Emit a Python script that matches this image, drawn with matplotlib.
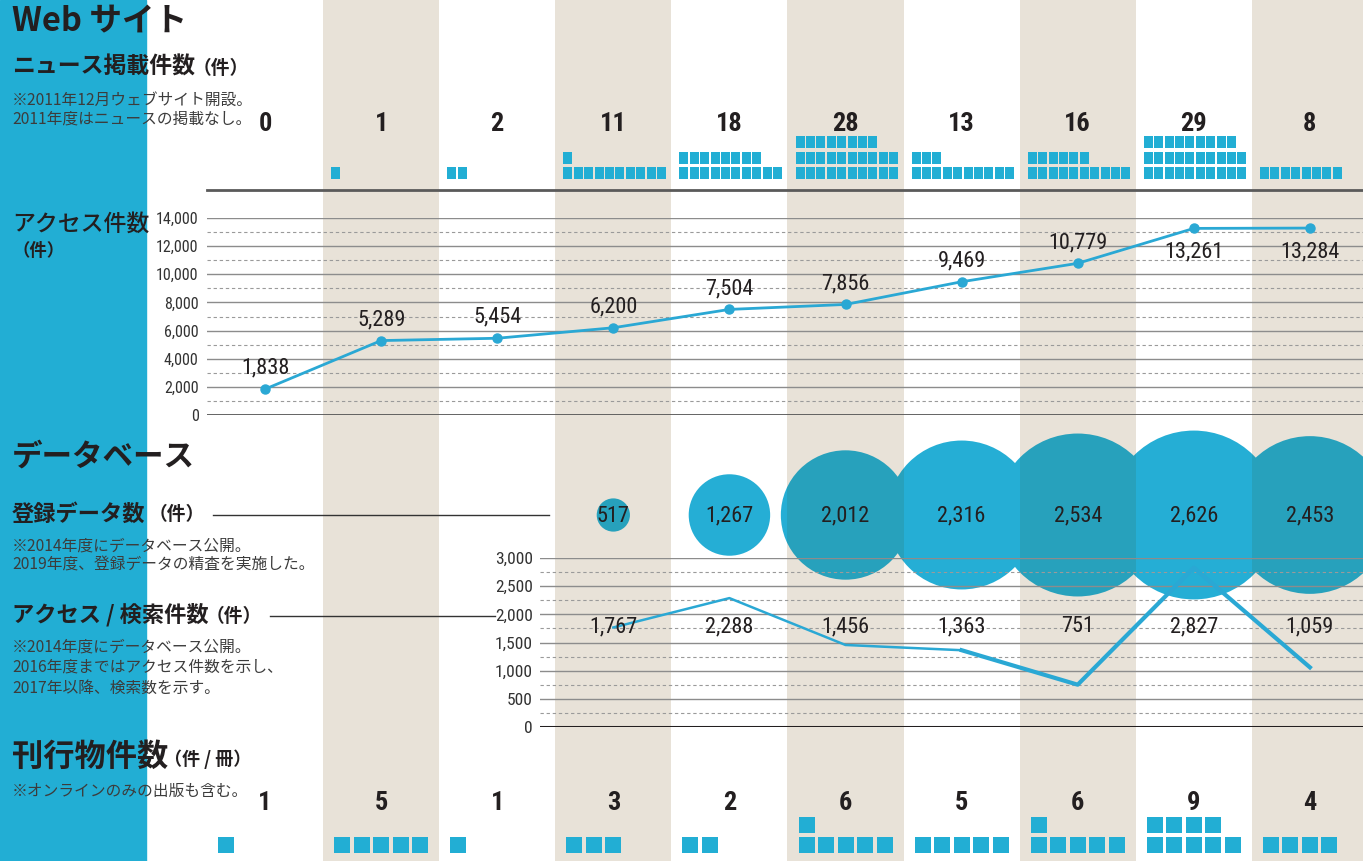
import os
import matplotlib
matplotlib.use('Agg')
import matplotlib.pyplot as plt
from matplotlib import font_manager as fm
from matplotlib.font_manager import FontProperties
from matplotlib.patches import Ellipse, Rectangle
from matplotlib.lines import Line2D
from matplotlib.transforms import Bbox, TransformedBbox, blended_transform_factory
import numpy as np

# ---------------- data ----------------
years = [2011, 2012, 2013, 2014, 2015, 2016, 2017, 2018, 2019, 2020]
news_counts = [0, 1, 2, 11, 18, 28, 13, 16, 29, 8]
web_access = [1838, 5289, 5454, 6200, 7504, 7856, 9469, 10779, 13261, 13284]
db_years = [2014, 2015, 2016, 2017, 2018, 2019, 2020]
db_records = [517, 1267, 2012, 2316, 2534, 2626, 2453]
db_access = [1767, 2288, 1456, 1363, 751, 2827, 1059]
pub_counts = [1, 5, 1, 3, 2, 6, 5, 6, 9, 4]
access_ticks = [0, 2000, 4000, 6000, 8000, 10000, 12000, 14000]
db_ticks = [0, 500, 1000, 1500, 2000, 2500, 3000]

# ---------------- style ----------------
W, H = 1363, 861
BLUE = '#22AED4'
LINE_BLUE = '#2AA8D4'
BEIGE = '#E8E2D8'
DARK = '#231F20'
NOTE = '#3C3C3C'
BUB_W = '#25AED5'
BUB_B = '#27A1BC'
OVL_W = '#039BC0'
OVL_B = '#0290AC'
COL0, PITCH = 265.0, 116.1
XL = (-0.5, (W - COL0) / PITCH)

JP = ['Noto Sans CJK JP', 'DejaVu Sans']
plt.rcParams['font.family'] = JP


# condensed font for numbers (real text, chosen from installed files)
def _norm(p):
    return os.path.basename(p).lower().replace('-', '').replace('_', '').replace(' ', '')

_files = [f.fname for f in fm.fontManager.ttflist]


def pick(patterns):
    for p in patterns:
        for f in _files:
            if p in _norm(f):
                return f
    return None

REG_FILE = pick(['notosanscondensed.ttf', 'notosanscondensedregular', 'robotocondensedregular',
                 'opensanscondensedregular', 'liberationsansnarrowregular',
                 'dejavusanscondensed.ttf'])
BOLD_FILE = pick(['notosanscondensedbold.ttf', 'robotocondensedbold.ttf',
                  'opensanscondensedbold.ttf', 'opensanscondbold', 'liberationsansnarrowbold.ttf',
                  'dejavusanscondensedbold'])
SCALE = 1.0 if REG_FILE else 0.85


def nfp(size, bold=False):
    f = BOLD_FILE if bold else REG_FILE
    if f:
        return FontProperties(fname=f, size=size * SCALE)
    return FontProperties(family=['Liberation Sans', 'DejaVu Sans'], size=size * SCALE,
                          weight='bold' if bold else 'normal')


fig = plt.figure(figsize=(W / 100, H / 100), dpi=100)


def add_ax(x0, y0, x1, y1, z=1):
    ax = fig.add_axes([x0 / W, 1 - y1 / H, (x1 - x0) / W, (y1 - y0) / H], zorder=z)
    ax.patch.set_alpha(0)
    for s in ax.spines.values():
        s.set_visible(False)
    return ax

cols = np.arange(len(years))
db_cols = np.array([years.index(y) for y in db_years])

# ---------------- background ----------------
fig.patches.append(Rectangle((0, 0), 146 / W, 1, transform=fig.transFigure,
                             color=BLUE, zorder=0.5))
bg = add_ax(207, 0, W, H, z=0)
bg.set_xlim(*XL)
bg.set_ylim(0, 1)
bg.axis('off')
for i in cols:
    if i % 2 == 1:
        bg.axvspan(i - 0.5, i + 0.5, color=BEIGE, lw=0)

# ---------------- left texts ----------------
def ftxt(x, y, s, size, weight='normal', color=DARK, **kw):
    fig.text(x / W, 1 - y / H, s, fontsize=size, fontweight=weight, color=color,
             va='center', ha='left', family=JP, zorder=5, **kw)

ftxt(12, 22, 'Web サイト', 23.5, 'bold')
ftxt(12, 67, 'ニュース掲載件数', 16.5, 'bold')
ftxt(193, 68, '（件）', 13.5, 'bold')
ftxt(12, 100, '※2011年12月ウェブサイト開設。', 11.3, color=NOTE)
ftxt(12, 119, '2011年度はニュースの掲載なし。', 11.3, color=NOTE)

ftxt(12, 224, 'アクセス件数', 16.5, 'medium')
ftxt(12, 251, '（件）', 12.5, 'bold')

ftxt(12, 457, 'データベース', 22, 'bold')
ftxt(12, 514, '登録データ数', 16, 'bold')
ftxt(149, 515, '（件）', 13.5, 'bold')
ftxt(12, 546, '※2014年度にデータベース公開。', 11.3, color=NOTE)
ftxt(12, 565, '2019年度、登録データの精査を実施した。', 11.3, color=NOTE)
ftxt(12, 615, 'アクセス / 検索件数', 16, 'bold')
ftxt(206, 616, '（件）', 13.5, 'bold')
ftxt(12, 647, '※2014年度にデータベース公開。', 11.3, color=NOTE)
ftxt(12, 667, '2016年度まではアクセス件数を示し、', 11.3, color=NOTE)
ftxt(12, 688, '2017年以降、検索数を示す。', 11.3, color=NOTE)

ftxt(12, 757, '刊行物件数', 22.5, 'bold')
ftxt(164, 759, '（件 / 冊）', 13, 'bold')
ftxt(12, 791, '※オンラインのみの出版も含む。', 11.3, color=NOTE)

fig.add_artist(Line2D([213 / W, 549 / W], [1 - 515 / H] * 2, color='#333333', lw=1.0,
                      transform=fig.transFigure, zorder=5))
fig.add_artist(Line2D([270 / W, 495 / W], [1 - 616 / H] * 2, color='#333333', lw=1.0,
                      transform=fig.transFigure, zorder=5))

# ---------------- news squares ----------------
axn = add_ax(207, 100, W, 190, z=2)
axn.set_xlim(*XL)
axn.set_ylim(0, 90)
axn.set_xticks([]); axn.set_yticks([])
sq_pitch = 10.4 / PITCH
sq_w = 9.0 / PITCH
for i, n in zip(cols, news_counts):
    k = np.arange(n)
    xs = i - 50.0 / PITCH + (k % 10) * sq_pitch
    ys = 11 + (k // 10) * 15.3
    axn.bar(xs, 12, width=sq_w, bottom=ys, align='edge', color=BLUE, lw=0)
    axn.text(i, 66, str(n), ha='center', va='center', color=DARK, fontproperties=nfp(19, True))
axn.axhline(0, color='#5A5A5A', lw=2, clip_on=False)

# ---------------- web access line chart ----------------
axa = add_ax(207, 218, W, 415, z=2)
axa.set_xlim(*XL)
axa.set_ylim(0, 14000)
for t in access_ticks:
    if t == 0:
        axa.axhline(t, color='#555555', lw=2, zorder=1)
    else:
        axa.axhline(t, color='#8C8C8C', lw=1, zorder=1)
    if t < access_ticks[-1]:
        axa.axhline(t + 1000, color='#9A9A9A', lw=0.8, ls=(0, (3, 2.5)), zorder=1)
axa.set_xticks([])
axa.set_yticks(access_ticks)
axa.set_yticklabels([f'{t:,}' for t in access_ticks], color='#333333')
for lab in axa.get_yticklabels():
    lab.set_fontproperties(nfp(11.5))
axa.tick_params(axis='y', length=0, pad=6)
axa.plot(cols, web_access, color=LINE_BLUE, lw=2, marker='o', ms=6.5, zorder=3, clip_on=False)
for i, v in zip(cols, web_access):
    below = i >= 8
    axa.annotate(f'{v:,}', (i, v), xytext=(0, -17 if below else 15), textcoords='offset points',
                 ha='center', va='center', color=DARK, fontproperties=nfp(16), zorder=4)

# ---------------- database bubbles ----------------
axb = add_ax(207, 420, W, 610, z=3)
axb.set_xlim(*XL)
axb.set_ylim(-95, 95)
axb.set_xticks([]); axb.set_yticks([])
DIAM = 0.0643  # px per record
ell = []
for c, v in zip(db_cols, db_records):
    d = v * DIAM
    ell.append((c, d))
    for k in cols:
        box = TransformedBbox(Bbox([[k - 0.5, -200], [k + 0.5, 200]]), axb.transData)
        e = Ellipse((c, 0), d / PITCH, d, facecolor=BUB_W if k % 2 == 0 else BUB_B,
                    lw=0, zorder=2)
        axb.add_patch(e)
        e.set_clip_box(box)
for (c1, d1), (c2, d2) in zip(ell[:-1], ell[1:]):
    for k in cols:
        clipper = Ellipse((c1, 0), d1 / PITCH, d1, transform=axb.transData)
        box = TransformedBbox(Bbox([[k - 0.5, -200], [k + 0.5, 200]]), axb.transData)
        e = Ellipse((c2, 0), d2 / PITCH, d2, facecolor=OVL_W if k % 2 == 0 else OVL_B,
                    lw=0, zorder=3)
        axb.add_patch(e)
        e.set_clip_path(clipper)
        e.set_clip_box(box)
for c, v in zip(db_cols, db_records):
    axb.text(c, -1, f'{v:,}', ha='center', va='center', color=DARK,
             fontproperties=nfp(16), zorder=5)

# ---------------- database access line chart ----------------
axd = add_ax(540, 558, W, 727, z=4)
axd.set_xlim((540 - COL0) / PITCH, XL[1])
axd.set_ylim(0, 3000)
for t in db_ticks:
    if t == 0:
        axd.axhline(t, color=DARK, lw=2.2, zorder=1)
    else:
        axd.axhline(t, color='#8C8C8C', lw=1, zorder=1)
    if t < db_ticks[-1]:
        axd.axhline(t + 250, color='#9A9A9A', lw=0.8, ls=(0, (3, 2.5)), zorder=1)
axd.set_xticks([])
axd.set_yticks(db_ticks)
axd.set_yticklabels([f'{t:,}' for t in db_ticks], color='#333333')
for lab in axd.get_yticklabels():
    lab.set_fontproperties(nfp(12.5))
axd.tick_params(axis='y', length=0, pad=5)
split = db_years.index(2017)
axd.plot(db_cols[:split + 1], db_access[:split + 1], color=LINE_BLUE, lw=1.8, zorder=3)
axd.plot(db_cols[split:], db_access[split:], color=LINE_BLUE, lw=3, zorder=3)
bt = blended_transform_factory(axd.transData, axd.transAxes)
for c, v in zip(db_cols, db_access):
    axd.text(c, 0.592, f'{v:,}', transform=bt, ha='center', va='center',
             color=DARK, fontproperties=nfp(16), zorder=4)

# ---------------- publications ----------------
axp = add_ax(207, 770, W, 861, z=2)
axp.set_xlim(*XL)
axp.set_ylim(0, 91)
axp.set_xticks([]); axp.set_yticks([])
p_pitch = 19.5 / PITCH
p_w = 16.0 / PITCH
for i, n in zip(cols, pub_counts):
    k = np.arange(n)
    xs = i - 47.0 / PITCH + (k % 5) * p_pitch
    ys = 8 + (k // 5) * 20
    axp.bar(xs, 16, width=p_w, bottom=ys, align='edge', color=BLUE, lw=0)
    axp.text(i, 58, str(n), ha='center', va='center', color=DARK,
             fontproperties=nfp(19, True))

fig.savefig('out.png', dpi=100)
